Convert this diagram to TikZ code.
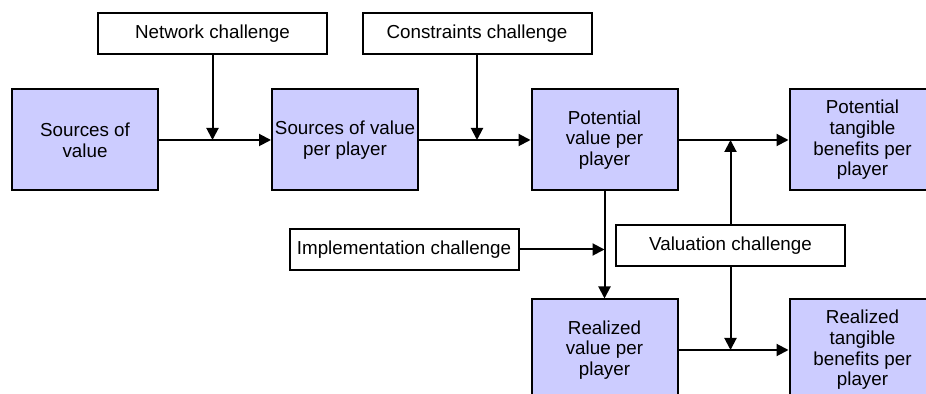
\documentclass[tikz,border=0pt]{standalone}
\usepackage{fontspec}
\setmainfont{Liberation Sans}
\usetikzlibrary{positioning,arrows.meta}
\definecolor{blockfill}{RGB}{204,204,255}

\begin{document}
\begin{tikzpicture}[x=0.5pt,y=-0.5pt,line width=1pt,
    font=\fontsize{9.4}{10.3}\selectfont,
    block/.style={rectangle,draw,fill=blockfill,minimum width=73pt,
      minimum height=50.5pt,inner sep=1pt,align=center},
    challenge/.style={rectangle,draw,fill=white,minimum width=114.5pt,
      minimum height=20.5pt,inner sep=1pt},
    >={Triangle[length=6pt,width=6pt]}]
     \path[use as bounding box,clip] (0,0) rectangle (926,394);
     \node[block] (srcvalue) at (85,140) {Sources of\\value};
     \node[block,right of=srcvalue,node distance=130pt] (srcplayer)
     {Sources of value\\per player};
     \node[block,right of=srcplayer,node distance=129.75pt] (potvalue)
     {Potential\\value per\\player};
     \node[block,right of=potvalue,node distance=129pt] (pottangible)
     {Potential\\tangible\\benefits per\\player};
     \node[block,below of=potvalue,node distance=105pt] (realvalue)
     {Realized\\value per\\player};
     \node[block,below of=pottangible,node distance=105pt] (realtangible)
     {Realized\\tangible\\benefits per\\player};
     \node[challenge] (network) at (212.5,34) {Network challenge};
     \node[challenge] (constraints) at (477,34) {Constraints challenge};
     \node[challenge] (implementation) at (404,249.5)
     {Implementation challenge};
     \node[challenge] (valuation) at (730.5,245.5) {Valuation challenge};
     \draw [->] (srcvalue) to (srcplayer);
     \draw [->] (srcplayer) to (potvalue);
     \draw [->] (potvalue) to (pottangible);
     \draw [->] (potvalue) to (realvalue);
     \draw [->] (realvalue) to (realtangible);
     \draw [->] (network) to (network |- srcvalue);
     \draw [->] (constraints) to (constraints |- srcplayer);
     \draw [->] (implementation) to (implementation -| potvalue);
     \draw [->] (valuation) to (valuation |- potvalue);
     \draw [->] (valuation) to (valuation |- realvalue);
   \end{tikzpicture}
\end{document}
